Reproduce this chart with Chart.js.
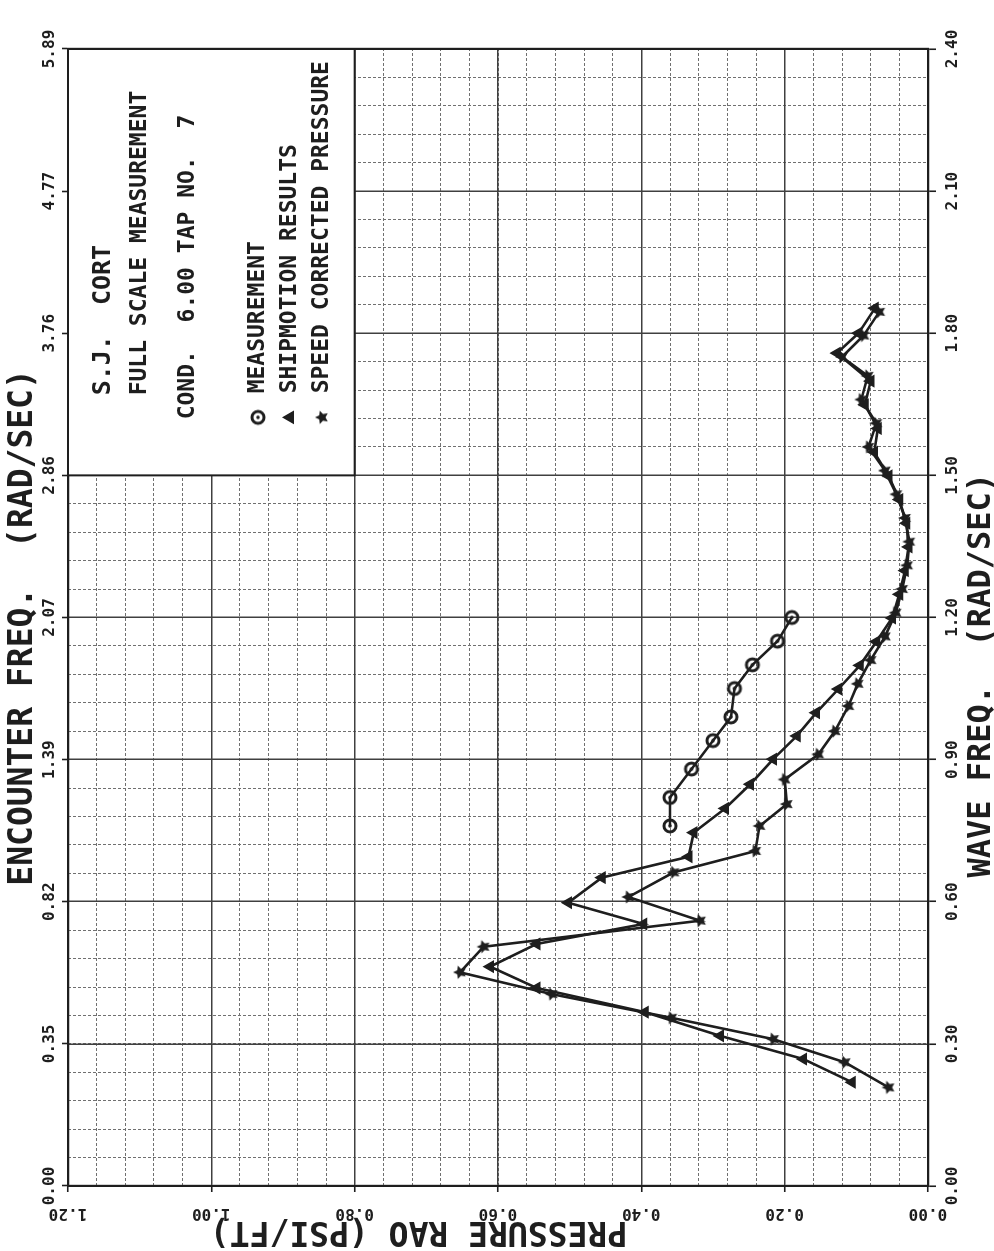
<!DOCTYPE html>
<html>
<head>
<meta charset="utf-8">
<title>Pressure RAO - S.J. Cort</title>
<script src="https://cdn.jsdelivr.net/npm/chart.js@4.4.1/dist/chart.umd.min.js"></script>
<style>
  html, body { margin: 0; padding: 0; background: #fff; }
  body { width: 994px; height: 1251px; overflow: hidden; position: relative; }
  /* the plot is drawn upright and turned a quarter turn, like the scanned sheet */
  #sheet {
    position: absolute; left: 0; top: 0;
    width: 1251px; height: 994px;
    transform-origin: 0 0;
    transform: translateY(1251px) rotate(-90deg);
  }
</style>
</head>
<body>
<div id="sheet"><canvas id="raoChart" width="1251" height="994"></canvas></div>
<script>
// wave frequency (rad/sec) and pressure RAO (psi/ft)
const measFreq = [0.76, 0.82, 0.88, 0.94, 0.99, 1.05, 1.10, 1.15, 1.20];
const measRao  = [0.36, 0.36, 0.33, 0.30, 0.275, 0.27, 0.245, 0.21, 0.19];

const shipFreq = [0.219, 0.268, 0.317, 0.367, 0.418, 0.463, 0.511, 0.553, 0.598, 0.651,
                  0.695, 0.746, 0.797, 0.848, 0.901, 0.950, 0.999, 1.049, 1.099, 1.149,
                  1.199, 1.249, 1.299, 1.349, 1.399, 1.449, 1.499, 1.549, 1.599, 1.649,
                  1.699, 1.758, 1.800, 1.853];
const shipRao  = [0.106, 0.174, 0.290, 0.395, 0.546, 0.611, 0.546, 0.397, 0.502, 0.455,
                  0.334, 0.327, 0.283, 0.248, 0.216, 0.183, 0.156, 0.125, 0.095, 0.072,
                  0.050, 0.040, 0.032, 0.027, 0.030, 0.040, 0.055, 0.075, 0.070, 0.088,
                  0.080, 0.127, 0.097, 0.074];

const speedFreq = [0.208, 0.261, 0.310, 0.355, 0.405, 0.451, 0.505, 0.560, 0.610, 0.662,
                   0.707, 0.760, 0.806, 0.858, 0.911, 0.960, 1.013, 1.060, 1.110, 1.160,
                   1.210, 1.260, 1.310, 1.360, 1.410, 1.460, 1.510, 1.560, 1.610, 1.660,
                   1.710, 1.750, 1.795, 1.845];
const speedRao  = [0.055, 0.116, 0.216, 0.358, 0.525, 0.653, 0.620, 0.318, 0.418, 0.355,
                   0.241, 0.235, 0.197, 0.200, 0.153, 0.130, 0.111, 0.098, 0.080, 0.060,
                   0.045, 0.036, 0.029, 0.026, 0.032, 0.044, 0.060, 0.083, 0.072, 0.093,
                   0.084, 0.120, 0.090, 0.068];

// top axis: encounter frequency at each 0.30 step of wave frequency
const encounterLabels = ["0.00", "0.35", "0.82", "1.39", "2.07", "2.86", "3.76", "4.77", "5.89"];

const noteLines = ["S.J.  CORT", "FULL SCALE MEASUREMENT", "COND.  6.00 TAP NO.  7"];
const seriesNames = ["MEASUREMENT", "SHIPMOTION RESULTS", "SPEED CORRECTED PRESSURE"];

const ink = "#1e1e1e";
const majorGrid = "#404040";
const minorGrid = "#707070";
const mono = '"DejaVu Sans Mono", "Liberation Mono", monospace';

Chart.defaults.font.family = mono;
Chart.defaults.color = ink;

// ring with a dot in the middle
function ringMark(r) {
  const c = document.createElement("canvas");
  const s = 2 * r + 6;
  c.width = s; c.height = s;
  const g = c.getContext("2d");
  g.strokeStyle = ink;
  g.lineWidth = 3;
  g.beginPath(); g.arc(s / 2, s / 2, r, 0, Math.PI * 2); g.stroke();
  g.fillStyle = ink;
  g.beginPath(); g.arc(s / 2, s / 2, 1.8, 0, Math.PI * 2); g.fill();
  return c;
}

// small filled five point star
function starMark(r) {
  const c = document.createElement("canvas");
  const s = 2 * r + 4;
  c.width = s; c.height = s;
  const g = c.getContext("2d");
  g.fillStyle = ink;
  g.beginPath();
  for (let i = 0; i < 10; i++) {
    const rad = i % 2 === 0 ? r : r * 0.5;
    const a = -Math.PI / 2 + i * Math.PI / 5;
    const px = s / 2 + rad * Math.cos(a);
    const py = s / 2 + rad * Math.sin(a);
    if (i === 0) g.moveTo(px, py); else g.lineTo(px, py);
  }
  g.closePath();
  g.fill();
  return c;
}

const ringPoint = ringMark(6);
const starPoint = starMark(7);

const toXY = (freq, rao) => freq.map((f, i) => ({ x: f, y: rao[i] }));

// note box with the run description and the symbol key
const noteBox = {
  id: "noteBox",
  beforeDatasetsDraw(chart) {
    const { ctx } = chart;
    const xs = chart.scales.x;
    const ys = chart.scales.y;
    const left = xs.getPixelForValue(1.5);
    const right = xs.getPixelForValue(2.4);
    const top = ys.getPixelForValue(1.2);
    const bottom = ys.getPixelForValue(0.8);

    ctx.save();
    ctx.fillStyle = "#fff";
    ctx.fillRect(left, top, right - left, bottom - top);
    ctx.strokeStyle = ink;
    ctx.lineWidth = 2;
    ctx.strokeRect(left, top, right - left, bottom - top);

    ctx.fillStyle = ink;
    ctx.textBaseline = "middle";
    ctx.textAlign = "left";
    ctx.font = 'bold 25px ' + mono;
    ctx.fillText(noteLines[0], left + 80, top + 35);
    ctx.font = 'bold 23px ' + mono;
    ctx.fillText(noteLines[1], left + 80, top + 72);
    ctx.fillText(noteLines[2], left + 56, top + 120);

    const marks = [ringPoint, "triangle", starPoint];
    seriesNames.forEach((name, i) => {
      const cy = top + 190 + i * 32;
      const style = marks[i];
      if (typeof style === "string") {
        Chart.helpers.drawPoint(ctx, {
          pointStyle: style, radius: 6, rotation: 0, borderWidth: 1
        }, left + 58, cy);
        ctx.fill();
      } else {
        ctx.drawImage(style, left + 58 - style.width / 2, cy - style.height / 2);
      }
      ctx.fillText(name, left + 82, cy);
    });
    ctx.restore();
  }
};

const tickFont = { size: 16, weight: "bold" };

new Chart(document.getElementById("raoChart"), {
  type: "scatter",
  data: {
    datasets: [
      {
        label: seriesNames[0],
        data: toXY(measFreq, measRao),
        showLine: true,
        borderColor: ink,
        borderWidth: 2.6,
        pointStyle: ringPoint,
        pointRadius: 6,
        xAxisID: "x",
        yAxisID: "y"
      },
      {
        label: seriesNames[1],
        data: toXY(shipFreq, shipRao),
        showLine: true,
        borderColor: ink,
        backgroundColor: ink,
        borderWidth: 2.6,
        pointStyle: "triangle",
        pointRadius: 5,
        xAxisID: "x",
        yAxisID: "y"
      },
      {
        label: seriesNames[2],
        data: toXY(speedFreq, speedRao),
        showLine: true,
        borderColor: ink,
        borderWidth: 2.6,
        pointStyle: starPoint,
        pointRadius: 7,
        xAxisID: "x",
        yAxisID: "y"
      }
    ]
  },
  options: {
    responsive: false,
    animation: false,
    layout: { padding: 0 },
    plugins: {
      legend: { display: false },
      tooltip: { enabled: false }
    },
    scales: {
      x: {
        type: "linear",
        position: "bottom",
        min: 0,
        max: 2.4,
        afterFit: s => { s.height = 66; },
        ticks: {
          stepSize: 0.3,
          autoSkip: false,
          maxRotation: 0,
          padding: 7,
          font: tickFont,
          color: ink,
          callback: v => Number(v).toFixed(2)
        },
        grid: { color: majorGrid, lineWidth: 1.5, tickLength: 8, tickColor: ink, tickWidth: 1.6 },
        border: { display: true, color: ink, width: 2.2 },
        title: {
          display: true,
          text: "WAVE FREQ.  (RAD/SEC)      ",
          color: ink,
          font: { size: 32, weight: "bold", lineHeight: 0.75 },
          padding: { top: 0, bottom: 0 }
        }
      },
      xMinor: {
        type: "linear",
        position: "bottom",
        min: 0,
        max: 2.4,
        afterFit: s => { s.height = 0; },
        ticks: { display: false, stepSize: 0.06, autoSkip: false },
        grid: { color: minorGrid, lineWidth: 1, drawTicks: false, z: -2 },
        border: { display: false, dash: [3, 2] }
      },
      x2: {
        type: "linear",
        position: "top",
        min: 0,
        max: 2.4,
        afterFit: s => { s.height = 68; },
        ticks: {
          stepSize: 0.3,
          autoSkip: false,
          maxRotation: 0,
          padding: 3,
          font: tickFont,
          color: ink,
          callback: v => encounterLabels[Math.round(v / 0.3)]
        },
        grid: { drawOnChartArea: false, tickLength: 6, tickColor: ink, tickWidth: 1.6 },
        border: { display: true, color: ink, width: 2.2 },
        title: {
          display: true,
          text: "ENCOUNTER FREQ.  (RAD/SEC) ",
          color: ink,
          font: { size: 33, weight: "bold", lineHeight: 0.75 },
          padding: { top: 11, bottom: 0 }
        }
      },
      y: {
        type: "linear",
        position: "left",
        min: 0,
        max: 1.2,
        afterFit: s => { s.width = 65; },
        ticks: {
          stepSize: 0.2,
          autoSkip: false,
          minRotation: 90,
          maxRotation: 90,
          crossAlign: "center",
          padding: 2,
          font: tickFont,
          color: ink,
          callback: v => Number(v).toFixed(2)
        },
        grid: { color: majorGrid, lineWidth: 1.5, tickLength: 6, tickColor: ink, tickWidth: 1.6 },
        border: { display: true, color: ink, width: 2.2 },
        title: {
          display: true,
          text: "        PRESSURE RAO (PSI/FT)",
          color: ink,
          font: { size: 33, weight: "bold", lineHeight: 0.8 },
          padding: { top: 7, bottom: 0 }
        }
      },
      yMinor: {
        type: "linear",
        position: "right",
        min: 0,
        max: 1.2,
        afterFit: s => { s.width = 49; },
        ticks: { display: false, stepSize: 0.04, autoSkip: false },
        grid: { color: minorGrid, lineWidth: 1, drawTicks: false, z: -2 },
        border: { display: true, color: ink, width: 2.2, dash: [3, 2] }
      }
    }
  },
  plugins: [noteBox]
});
</script>
</body>
</html>
